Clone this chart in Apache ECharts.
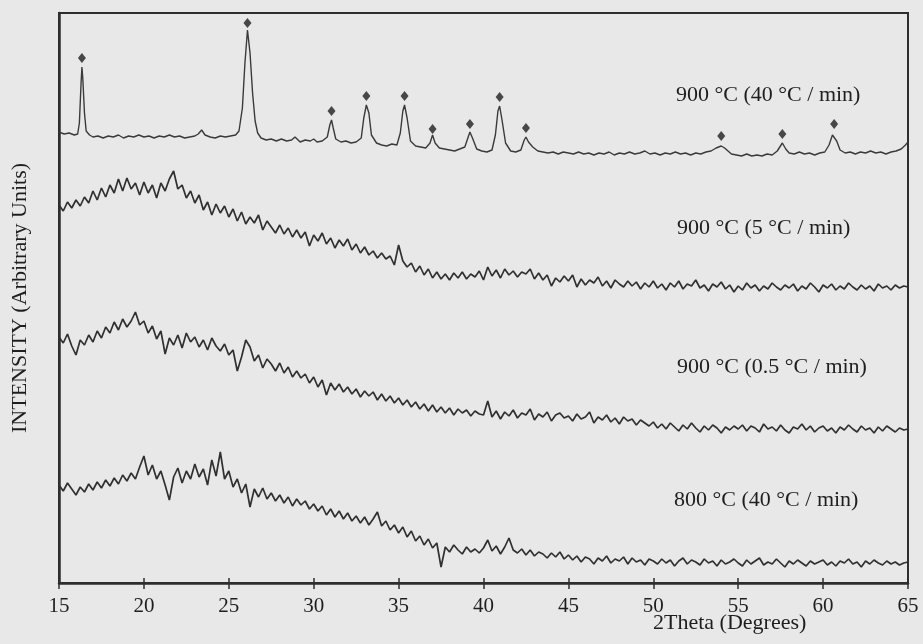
<!DOCTYPE html>
<html>
<head>
<meta charset="utf-8">
<script src="https://cdn.jsdelivr.net/npm/echarts@6/dist/echarts.min.js"></script>
<style>
html,body{margin:0;padding:0;background:#e8e8e8;}
#chart{width:923px;height:644px;}
</style>
</head>
<body>
<div id="chart"></div>
<script>
// ---- DATA ----
const xTicks = [15, 20, 25, 30, 35, 40, 45, 50, 55, 60, 65];
const seriesNames = ['900 °C (40 °C / min)', '900 °C (5 °C / min)', '900 °C (0.5 °C / min)', '800 °C (40 °C / min)'];

// 900 °C (40 °C/min): [2theta, intensity] (crystalline pattern)
const trace900fast = [
[15.0,451],[15.3,449],[15.6,450],[15.9,448],[16.1,449],[16.2,460],[16.3,500],[16.35,516],[16.4,505],[16.5,470],[16.6,452],[16.8,448],
[17.0,446],[17.3,447],[17.6,445],[17.9,447],[18.2,446],[18.5,448],[18.8,445],[19.1,447],[19.4,446],[19.7,448],[20.0,446],[20.3,447],
[20.6,445],[20.9,447],[21.2,446],[21.5,448],[21.8,446],[22.1,447],[22.4,445],[22.7,446],[23.0,447],[23.2,449],[23.4,453],[23.6,448],
[23.9,446],[24.2,445],[24.5,447],[24.8,446],[25.1,447],[25.4,448],[25.6,452],[25.8,475],[25.95,520],[26.1,553],[26.25,530],[26.4,490],
[26.55,462],[26.7,450],[26.9,445],[27.2,443],[27.5,444],[27.8,442],[28.1,444],[28.4,442],[28.7,443],[28.9,446],[29.2,441],[29.5,443],
[29.8,442],[30.0,444],[30.2,441],[30.5,442],[30.8,446],[30.95,458],[31.05,463],[31.15,455],[31.3,444],[31.6,441],[31.9,442],[32.2,440],
[32.5,441],[32.8,445],[32.95,465],[33.1,478],[33.25,470],[33.4,448],[33.7,440],[34.0,438],[34.3,437],[34.6,439],[34.9,438],[35.1,450],
[35.25,472],[35.35,478],[35.5,465],[35.7,442],[36.0,437],[36.3,436],[36.6,435],[36.85,440],[37.0,448],[37.15,440],[37.4,435],[37.7,434],
[38.0,433],[38.3,432],[38.6,434],[38.9,436],[39.1,446],[39.2,451],[39.35,445],[39.6,434],[39.9,432],[40.2,431],[40.5,433],[40.7,448],
[40.85,472],[40.95,477],[41.1,462],[41.3,440],[41.6,432],[41.9,431],[42.2,433],[42.4,443],[42.5,446],[42.65,441],[42.9,436],[43.2,432],
[43.5,431],[43.8,430],[44.1,431],[44.4,429],[44.7,431],[45.0,430],[45.3,429],[45.6,431],[45.9,429],[46.2,430],[46.5,428],[46.8,430],
[47.1,429],[47.4,431],[47.7,428],[48.0,430],[48.3,429],[48.6,431],[48.9,429],[49.2,430],[49.5,432],[49.8,429],[50.1,430],[50.4,428],
[50.7,430],[51.0,429],[51.3,431],[51.6,429],[51.9,430],[52.2,428],[52.5,430],[52.8,429],[53.1,431],[53.4,432],[53.7,435],[54.0,437],
[54.2,435],[54.4,432],[54.6,429],[54.9,428],[55.2,427],[55.5,429],[55.8,427],[56.1,428],[56.4,427],[56.7,429],[57.0,428],[57.3,432],
[57.6,440],[57.8,434],[58.0,430],[58.3,429],[58.6,431],[58.9,429],[59.2,430],[59.5,428],[59.8,430],[60.1,431],[60.35,438],[60.55,448],
[60.65,450],[60.8,442],[61.0,433],[61.3,430],[61.6,431],[61.9,429],[62.2,431],[62.5,430],[62.8,432],[63.1,430],[63.4,431],[63.7,429],
[64.0,431],[64.3,432],[64.6,434],[64.85,438],[65.0,441]
];

// diamond markers above the crystalline peaks: [2theta, intensity]
const peakMarkers = [[16.35,525],[26.1,560],[31.05,472],[33.1,487],[35.35,487],[37.0,454],[39.2,459],[40.95,486],[42.5,455],[54.0,447],[57.6,449],[60.65,459]];

// amorphous patterns, sampled every 0.25 deg from 15 to 65 (201 values each)
const trace900slow5 = [
378,372,381,375,383,377,386,380,392,383,395,386,398,390,404,392,405,394,400,388,
401,390,398,385,400,392,404,412,394,398,385,392,380,388,373,381,368,379,370,377,
366,374,362,371,359,366,360,368,353,362,356,350,358,349,355,346,353,345,351,337,
348,342,350,339,345,335,343,337,344,333,339,330,336,328,332,325,330,324,327,318,
338,322,316,320,311,317,308,314,305,311,304,309,303,310,305,311,304,309,306,312,
303,316,307,313,305,314,308,312,306,311,309,314,304,310,303,308,297,305,301,307,
302,308,296,304,298,303,300,306,297,302,295,303,299,296,302,297,301,294,300,296,
302,295,299,293,300,296,302,294,299,297,303,295,298,292,299,296,301,294,298,291,
297,293,300,295,298,292,297,294,300,296,293,298,295,299,292,297,294,300,296,291,
298,295,299,293,297,294,300,296,293,298,294,297,292,299,295,297,293,298,295,297,
296
];
const trace900slow05 = [
246,240,249,237,228,243,238,248,241,252,245,256,250,261,253,264,256,262,271,258,
262,250,257,244,252,229,245,238,248,235,250,241,246,236,243,233,245,237,232,239,
228,233,212,226,243,236,222,228,215,224,219,212,220,210,216,206,212,205,209,200,
206,196,203,188,200,193,199,191,196,189,194,186,192,187,191,183,189,182,187,180,
185,178,183,176,181,174,179,172,178,171,176,170,175,168,174,170,173,167,172,169,
168,182,166,172,164,171,167,173,165,170,168,174,163,169,166,171,162,168,170,165,
167,162,169,164,166,171,160,166,163,168,161,165,159,166,162,164,158,163,160,157,
161,155,159,154,160,156,152,158,154,160,155,151,157,153,158,155,150,156,153,157,
154,158,152,157,155,151,159,154,156,152,158,153,150,156,154,159,153,157,151,155,
157,152,155,150,156,153,158,154,151,157,153,155,150,156,152,157,154,151,155,153,
154
];
const trace800fast = [
98,92,100,94,88,96,91,99,93,101,95,103,97,105,99,108,102,110,104,116,
127,108,118,104,112,98,83,106,115,100,112,104,119,106,114,98,123,107,131,104,
112,96,104,90,99,76,94,86,95,84,90,82,88,80,86,77,84,78,82,74,
79,72,77,68,74,66,72,64,70,62,67,60,66,58,64,71,57,62,53,58,
50,56,46,52,42,47,38,44,35,40,16,36,31,38,33,29,36,31,34,30,
35,43,32,37,29,36,45,33,30,34,28,33,27,31,29,25,30,26,31,24,
28,23,27,21,26,24,19,25,22,27,20,24,22,26,19,25,21,23,18,24,
22,19,24,20,23,17,22,25,19,23,21,18,24,20,22,17,23,19,21,24,
20,17,23,19,22,25,18,21,19,24,20,16,22,19,23,20,17,22,19,21,
23,18,21,17,22,20,24,19,21,16,22,19,23,20,18,22,19,21,18,20,
21
];
const sampleStart = 15, sampleStep = 0.25;

// ---- BUILD ----
function pairs(vals){ return vals.map((v,i)=>[sampleStart + i*sampleStep, v]); }
const FONT = 'Liberation Serif, Times New Roman, serif';
const TXT = '#1e1e1e';

const chart = echarts.init(document.getElementById('chart'), null, {renderer:'canvas'});
const lineSeries = (name, data, width, color) => ({
  name, type:'line', data, showSymbol:false, symbol:'none',
  lineStyle:{color, width}, animation:false, xAxisIndex:0, yAxisIndex:0
});
chart.setOption({
  backgroundColor:'#e8e8e8',
  animation:false,
  grid:{left:59, right:15, top:13, bottom:61, show:true, borderColor:'#2e2e2e', borderWidth:2, backgroundColor:'transparent'},
  xAxis:[{
    type:'value', min:xTicks[0], max:xTicks[xTicks.length-1], interval:5, position:'bottom',
    axisLine:{show:true, lineStyle:{color:'#2e2e2e', width:2.5}},
    axisTick:{show:true, inside:true, length:5, lineStyle:{color:'#2e2e2e', width:1.5}},
    axisLabel:{fontFamily:FONT, fontSize:21, color:TXT, margin:13},
    splitLine:{show:false}
  },{
    type:'value', min:xTicks[0], max:xTicks[xTicks.length-1], interval:5, position:'bottom',
    axisLine:{show:false},
    axisTick:{show:true, inside:false, length:6, lineStyle:{color:'#2e2e2e', width:1.5}},
    axisLabel:{show:false}, splitLine:{show:false}
  }],
  yAxis:{
    type:'value', min:0, max:570, show:true,
    axisLine:{show:true, lineStyle:{color:'#2e2e2e', width:2.5}},
    axisTick:{show:false}, axisLabel:{show:false}, splitLine:{show:false},
    name:'INTENSITY (Arbitrary Units)', nameLocation:'middle', nameGap:28,
    nameTextStyle:{fontFamily:FONT, fontSize:22, color:TXT}
  },
  graphic:[
    {type:'text', left:676, top:84, style:{text:seriesNames[0], font:'22px '+FONT, fill:TXT}},
    {type:'text', left:677, top:217, style:{text:seriesNames[1], font:'22px '+FONT, fill:TXT}},
    {type:'text', left:677, top:356, style:{text:seriesNames[2], font:'22px '+FONT, fill:TXT}},
    {type:'text', left:674, top:489, style:{text:seriesNames[3], font:'22px '+FONT, fill:TXT}},
    {type:'text', left:653, top:612, style:{text:'2Theta (Degrees)', font:'22px '+FONT, fill:TXT}}
  ],
  series:[
    lineSeries(seriesNames[0], trace900fast, 1.4, '#3a3a3a'),
    lineSeries(seriesNames[1], pairs(trace900slow5), 1.7, '#303030'),
    lineSeries(seriesNames[2], pairs(trace900slow05), 1.7, '#303030'),
    lineSeries(seriesNames[3], pairs(trace800fast), 1.7, '#303030'),
    {type:'scatter', data:peakMarkers, symbol:'diamond', symbolSize:[8,10],
     itemStyle:{color:'#1e1e1e'}, animation:false, z:5}
  ]
});
</script>
</body>
</html>
